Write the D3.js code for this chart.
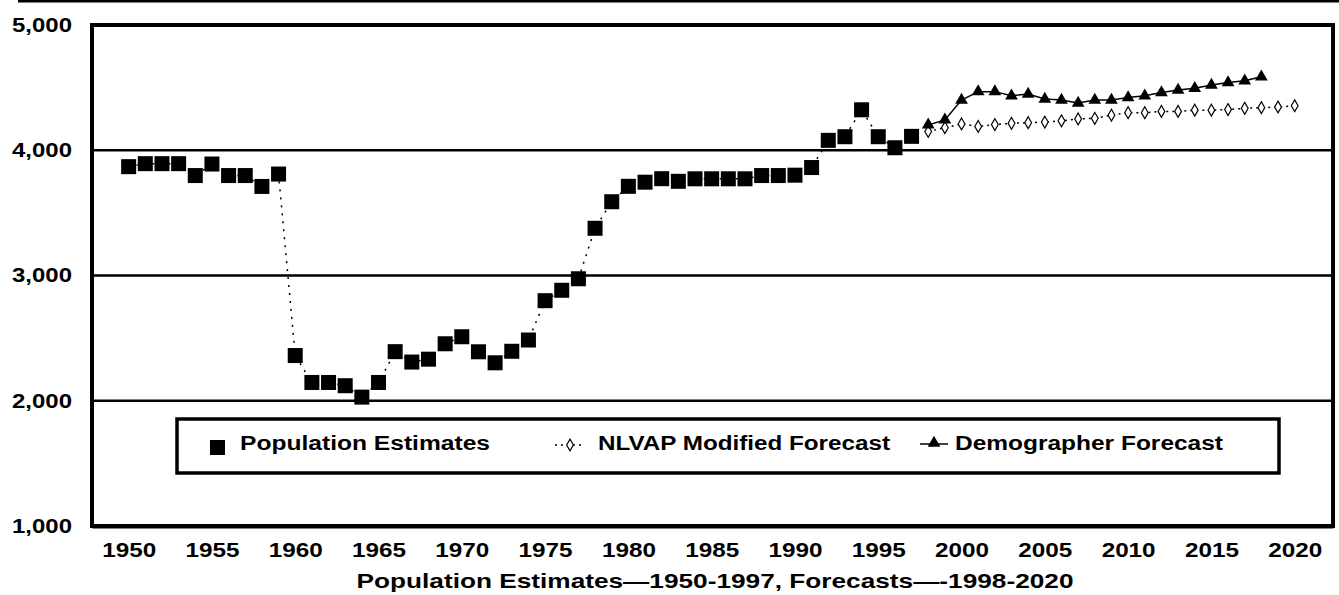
<!DOCTYPE html>
<html><head><meta charset="utf-8">
<script src="https://cdn.jsdelivr.net/npm/d3@7"></script>
<style>
html,body{margin:0;padding:0;background:#fff;}
svg{display:block;font-family:"Liberation Sans",Arial,sans-serif;font-weight:bold;}
</style></head>
<body><svg id="chart" width="1339" height="595"></svg>
<script>
// ---- data ----
const estimateYears = [1950,1951,1952,1953,1954,1955,1956,1957,1958,1959,
  1960,1961,1962,1963,1964,1965,1966,1967,1968,1969,
  1970,1971,1972,1973,1974,1975,1976,1977,1978,1979,
  1980,1981,1982,1983,1984,1985,1986,1987,1988,1989,
  1990,1991,1992,1993,1994,1995,1996,1997];
const populationEstimates = [3869,3893,3893,3893,3798,3890,3798,3798,3711,3810,
  2361,2146,2146,2120,2029,2146,2392,2309,2332,2455,
  2511,2391,2303,2395,2485,2799,2882,2974,3377,3589,
  3712,3745,3773,3752,3772,3772,3772,3772,3798,3798,
  3801,3862,4079,4108,4323,4108,4020,4111];
const demographerYears = [1998,1999,2000,2001,2002,2003,2004,2005,2006,2007,
  2008,2009,2010,2011,2012,2013,2014,2015,2016,2017,2018];
const demographerForecast = [4202,4242,4401,4468,4468,4435,4449,4409,4401,4377,
  4401,4401,4421,4435,4461,4481,4495,4521,4540,4555,4587];
const nlvapYears = [1998,1999,2000,2001,2002,2003,2004,2005,2006,2007,2008,
  2009,2010,2011,2012,2013,2014,2015,2016,2017,2018,2019,2020];
const nlvapForecast = [4150,4180,4210,4190,4205,4215,4220,4225,4235,4250,4255,
  4280,4300,4300,4310,4310,4320,4320,4325,4335,4340,4345,4355];
const xTickLabels = [1950,1955,1960,1965,1970,1975,1980,1985,1990,1995,2000,2005,2010,2015,2020];
const yTickLabels = [1000,2000,3000,4000,5000];
const gridValues = [2000,3000,4000];
const legendLabels = ["Population Estimates","NLVAP Modified Forecast","Demographer Forecast"];
const axisTitle = "Population Estimates\u20141950-1997, Forecasts\u2014-1998-2020";

// ---- layout ----
const svg = d3.select("#chart");
svg.append("rect").attr("width",1339).attr("height",595).attr("fill","#fff");
const L = 92, R = 1333, T = 25, B = 526;
const x = d3.scaleLinear().domain([1947.8, 2022.3]).range([L, R]);
const y = d3.scaleLinear().domain([1000, 5000]).range([B, T]);

// top line (cut-off outer frame)
svg.append("line").attr("x1",18).attr("x2",1339).attr("y1",1).attr("y2",1)
  .attr("stroke","#000").attr("stroke-width",3);

// gridlines
svg.append("g").selectAll("line").data(gridValues).join("line")
  .attr("x1",L).attr("x2",R).attr("y1",d=>y(d)).attr("y2",d=>y(d))
  .attr("stroke","#000").attr("stroke-width",2.5);

// frame
svg.append("rect").attr("x",L).attr("y",T).attr("width",R-L).attr("height",B-T)
  .attr("fill","none").attr("stroke","#000").attr("stroke-width",4);

// y axis
const yAxis = svg.append("g").attr("transform",`translate(${L},0)`)
  .call(d3.axisLeft(y).tickValues(yTickLabels).tickSize(0).tickPadding(20).tickFormat(d3.format(",")));
yAxis.select(".domain").remove();
yAxis.selectAll("text").attr("font-size",20).attr("font-weight","bold").attr("fill","#000")
  .attr("font-family","Liberation Sans, Arial, sans-serif")
  .attr("textLength",60).attr("lengthAdjust","spacingAndGlyphs");

// x axis
const xAxis = svg.append("g").attr("transform",`translate(0,${B})`)
  .call(d3.axisBottom(x).tickValues(xTickLabels).tickSize(0).tickPadding(17).tickFormat(d3.format("d")));
xAxis.select(".domain").attr("stroke","#000").attr("stroke-width",4);
xAxis.selectAll("text").attr("font-size",20).attr("font-weight","bold").attr("fill","#000")
  .attr("font-family","Liberation Sans, Arial, sans-serif")
  .attr("textLength",54).attr("lengthAdjust","spacingAndGlyphs");

// axis title
svg.append("text").attr("x",715).attr("y",588).attr("text-anchor","middle")
  .attr("font-size",21).attr("fill","#000")
  .attr("textLength",717).attr("lengthAdjust","spacingAndGlyphs").text(axisTitle);

// series lines
const estData = estimateYears.map((yr,i)=>({yr, v:populationEstimates[i]}));
const demData = demographerYears.map((yr,i)=>({yr, v:demographerForecast[i]}));
const nlvData = nlvapYears.map((yr,i)=>({yr, v:nlvapForecast[i]}));
const line = d3.line().x(d=>x(d.yr)).y(d=>y(d.v));

svg.append("path").datum(estData).attr("d",line).attr("fill","none")
  .attr("stroke","#000").attr("stroke-width",1.5).attr("stroke-dasharray","2,6");
svg.append("path").datum(nlvData).attr("d",line).attr("fill","none")
  .attr("stroke","#000").attr("stroke-width",1.5).attr("stroke-dasharray","2,4");
svg.append("path").datum(demData).attr("d",line).attr("fill","none")
  .attr("stroke","#000").attr("stroke-width",1.5);

// markers
const sq = 15;
svg.append("g").selectAll("rect").data(estData).join("rect")
  .attr("x",d=>x(d.yr)-sq/2).attr("y",d=>y(d.v)-sq/2).attr("width",sq).attr("height",sq)
  .attr("fill","#000");
const diamond = d3.symbol().type(d3.symbolDiamond).size(40);
svg.append("g").selectAll("path").data(nlvData).join("path")
  .attr("transform",d=>`translate(${x(d.yr)},${y(d.v)})`).attr("d",diamond)
  .attr("fill","#fff").attr("stroke","#000").attr("stroke-width",1.2);
const tri = d3.symbol().type(d3.symbolTriangle).size(70);
svg.append("g").selectAll("path").data(demData).join("path")
  .attr("transform",d=>`translate(${x(d.yr)},${y(d.v)})`).attr("d",tri)
  .attr("fill","#000");

// legend
const lg = svg.append("g");
lg.append("rect").attr("x",177).attr("y",419).attr("width",1102).attr("height",54)
  .attr("fill","#fff").attr("stroke","#000").attr("stroke-width",3.5);
lg.append("rect").attr("x",210).attr("y",440).attr("width",sq).attr("height",sq).attr("fill","#000");
lg.append("line").attr("x1",555).attr("x2",585).attr("y1",445).attr("y2",445)
  .attr("stroke","#000").attr("stroke-width",1.5).attr("stroke-dasharray","2,4");
lg.append("path").attr("transform","translate(570,445)").attr("d",diamond)
  .attr("fill","#fff").attr("stroke","#000").attr("stroke-width",1.2);
lg.append("line").attr("x1",920).attr("x2",948).attr("y1",444).attr("y2",444)
  .attr("stroke","#000").attr("stroke-width",1.5);
lg.append("path").attr("transform","translate(934,443)").attr("d",tri).attr("fill","#000");
const legendX = [240,598,955], legendW = [250,292,268];
lg.selectAll("text.lt").data(legendLabels).join("text").attr("class","lt")
  .attr("x",(d,i)=>legendX[i]).attr("y",450).attr("font-size",20).attr("fill","#000")
  .attr("textLength",(d,i)=>legendW[i]).attr("lengthAdjust","spacingAndGlyphs").text(d=>d);
</script></body></html>
